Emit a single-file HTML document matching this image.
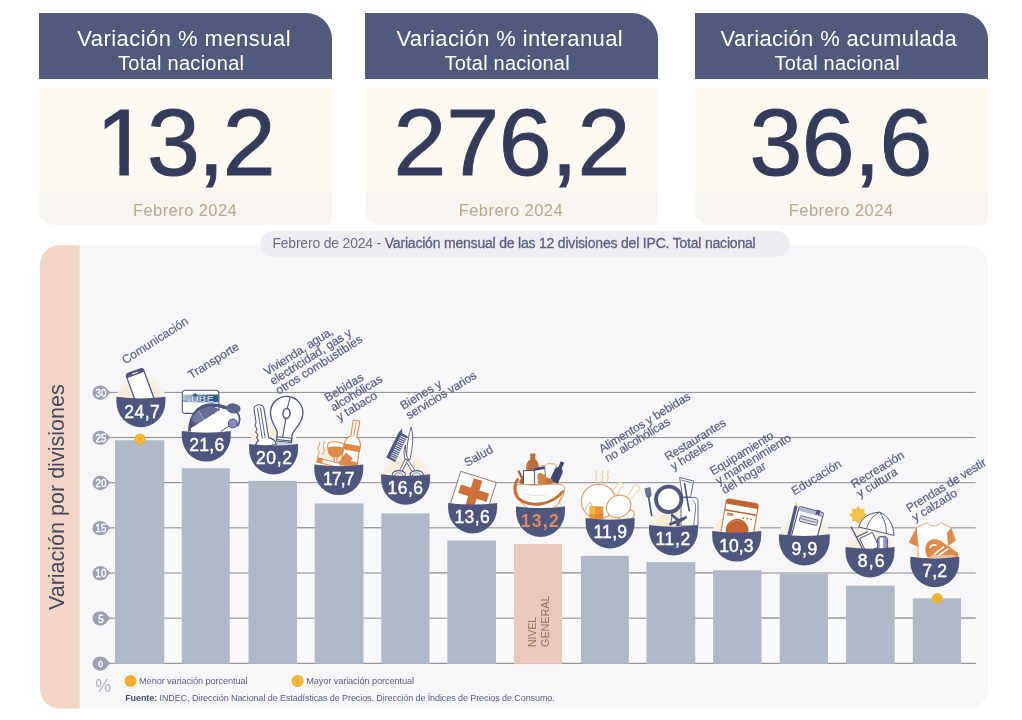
<!DOCTYPE html>
<html lang="es"><head><meta charset="utf-8"><title>IPC Febrero 2024</title>
<style>
html,body{margin:0;padding:0;background:#fff;}
body{width:1022px;height:720px;overflow:hidden;font-family:"Liberation Sans",sans-serif;}
svg{display:block}
text{font-family:"Liberation Sans",sans-serif;}
</style></head><body>
<svg width="1022" height="720" viewBox="0 0 1022 720">
<rect width="1022" height="720" fill="#fff"/>

<g id="cards">
<path d="M39 13H306a26 26 0 0 1 26 26V79H39Z" fill="#525a7b"/>
<path d="M39.5 88H332V218.4a6 6 0 0 1 -6 6H52a12.5 12.5 0 0 1 -12.5 -12.5Z" fill="#fef9f2"/>
<path d="M39.5 192H332V218.4a6 6 0 0 1 -6 6H52a12.5 12.5 0 0 1 -12.5 -12.5Z" fill="#f8f4ef"/>
<path d="M365 13H632a26 26 0 0 1 26 26V79H365Z" fill="#525a7b"/>
<path d="M365.5 88H658V218.4a6 6 0 0 1 -6 6H378a12.5 12.5 0 0 1 -12.5 -12.5Z" fill="#fef9f2"/>
<path d="M365.5 192H658V218.4a6 6 0 0 1 -6 6H378a12.5 12.5 0 0 1 -12.5 -12.5Z" fill="#f8f4ef"/>
<path d="M695 13H962a26 26 0 0 1 26 26V79H695Z" fill="#525a7b"/>
<path d="M695.5 88H988V218.4a6 6 0 0 1 -6 6H708a12.5 12.5 0 0 1 -12.5 -12.5Z" fill="#fef9f2"/>
<path d="M695.5 192H988V218.4a6 6 0 0 1 -6 6H708a12.5 12.5 0 0 1 -12.5 -12.5Z" fill="#f8f4ef"/>
<text x="77.19" y="46" font-size="22" fill="#fff" letter-spacing="0.462">Variación % mensual</text>
<text x="118.10" y="69.6" font-size="20" fill="#fff" letter-spacing="0.277">Total nacional</text>
<text x="95.97" y="175" font-size="95" fill="#353b5a" letter-spacing="-1.767" stroke="#353b5a" stroke-width="1">13,2</text>
<text x="132.98" y="215.5" font-size="16.5" fill="#b7a98c" letter-spacing="0.430">Febrero 2024</text>
<text x="396.39" y="46" font-size="22" fill="#fff" letter-spacing="0.370">Variación % interanual</text>
<text x="444.50" y="69.6" font-size="20" fill="#fff" letter-spacing="0.215">Total nacional</text>
<text x="393.55" y="175" font-size="95" fill="#353b5a" letter-spacing="-0.250" stroke="#353b5a" stroke-width="1">276,2</text>
<text x="458.68" y="215.5" font-size="16.5" fill="#b7a98c" letter-spacing="0.448">Febrero 2024</text>
<text x="720.59" y="46" font-size="22" fill="#fff" letter-spacing="0.337">Variación % acumulada</text>
<text x="774.50" y="69.6" font-size="20" fill="#fff" letter-spacing="0.215">Total nacional</text>
<text x="749.60" y="175" font-size="95" fill="#353b5a" letter-spacing="-0.692" stroke="#353b5a" stroke-width="1">36,6</text>
<text x="788.68" y="215.5" font-size="16.5" fill="#b7a98c" letter-spacing="0.485">Febrero 2024</text>
<rect x="100" y="166" width="19.35" height="11" fill="#fef9f2"/><rect x="128.85" y="166" width="18.5" height="11" fill="#fef9f2"/>
</g>
<g id="panel">
<path d="M59.5 245.3H968a20 20 0 0 1 20 20V688.5a20 20 0 0 1 -20 20H59.5a19.5 19.5 0 0 1 -19.5 -19.5V264.8a19.5 19.5 0 0 1 19.5 -19.5Z" fill="#f7f7fa"/>
<path d="M59.5 245.3H79.6V708.5H59.5a19.5 19.5 0 0 1 -19.5 -19.5V264.8a19.5 19.5 0 0 1 19.5 -19.5Z" fill="#f3d5c8"/>
<rect x="260.3" y="231.2" width="529.4" height="25.8" rx="12.9" fill="#ededf2"/>
<text x="272.38" y="248.2" font-size="14" letter-spacing="-0.200" fill="#5f5d88" stroke="#5f5d88" stroke-width=".3"><tspan fill="#6d6e86" stroke="none">Febrero de 2024 - </tspan>Variación mensual de las 12 divisiones del IPC. Total nacional</text>
<text transform="translate(64.2 610) rotate(-90)" x="-0.11" y="0" font-size="21.6" letter-spacing="-0.027" fill="#45485f">Variación por divisiones</text>
</g>
<g id="grid">
<line x1="106" y1="392.4" x2="975.6" y2="392.4" stroke="#8a8a8c" stroke-width="1"/>
<line x1="106" y1="437.54999999999995" x2="975.6" y2="437.54999999999995" stroke="#8a8a8c" stroke-width="1"/>
<line x1="106" y1="482.69999999999993" x2="975.6" y2="482.69999999999993" stroke="#8a8a8c" stroke-width="1"/>
<line x1="106" y1="527.8499999999999" x2="975.6" y2="527.8499999999999" stroke="#8a8a8c" stroke-width="1"/>
<line x1="106" y1="573.0" x2="975.6" y2="573.0" stroke="#8a8a8c" stroke-width="1"/>
<line x1="106" y1="618.15" x2="975.6" y2="618.15" stroke="#8a8a8c" stroke-width="1"/>
<line x1="106" y1="663.3" x2="975.6" y2="663.3" stroke="#8a8a8c" stroke-width="1"/>
</g>
<g id="bars">
<rect x="164.25" y="482.69999999999993" width="17.5" height="180.60000000000002" fill="#fafafc"/>
<line x1="164.25" y1="663.3" x2="181.75" y2="663.3" stroke="#8a8a8c" stroke-width="1"/>
<line x1="164.25" y1="618.15" x2="181.75" y2="618.15" stroke="#8a8a8c" stroke-width="1"/>
<line x1="164.25" y1="573.0" x2="181.75" y2="573.0" stroke="#8a8a8c" stroke-width="1"/>
<line x1="164.25" y1="527.8499999999999" x2="181.75" y2="527.8499999999999" stroke="#8a8a8c" stroke-width="1"/>
<line x1="164.25" y1="482.69999999999993" x2="181.75" y2="482.69999999999993" stroke="#8a8a8c" stroke-width="1"/>
<rect x="229.75" y="482.69999999999993" width="18.75" height="180.60000000000002" fill="#fafafc"/>
<line x1="229.75" y1="663.3" x2="248.5" y2="663.3" stroke="#8a8a8c" stroke-width="1"/>
<line x1="229.75" y1="618.15" x2="248.5" y2="618.15" stroke="#8a8a8c" stroke-width="1"/>
<line x1="229.75" y1="573.0" x2="248.5" y2="573.0" stroke="#8a8a8c" stroke-width="1"/>
<line x1="229.75" y1="527.8499999999999" x2="248.5" y2="527.8499999999999" stroke="#8a8a8c" stroke-width="1"/>
<line x1="229.75" y1="482.69999999999993" x2="248.5" y2="482.69999999999993" stroke="#8a8a8c" stroke-width="1"/>
<rect x="297" y="527.8499999999999" width="17.75" height="135.45000000000005" fill="#fafafc"/>
<line x1="297" y1="663.3" x2="314.75" y2="663.3" stroke="#8a8a8c" stroke-width="1"/>
<line x1="297" y1="618.15" x2="314.75" y2="618.15" stroke="#8a8a8c" stroke-width="1"/>
<line x1="297" y1="573.0" x2="314.75" y2="573.0" stroke="#8a8a8c" stroke-width="1"/>
<line x1="297" y1="527.8499999999999" x2="314.75" y2="527.8499999999999" stroke="#8a8a8c" stroke-width="1"/>
<rect x="363.5" y="527.8499999999999" width="17.75" height="135.45000000000005" fill="#fafafc"/>
<line x1="363.5" y1="663.3" x2="381.25" y2="663.3" stroke="#8a8a8c" stroke-width="1"/>
<line x1="363.5" y1="618.15" x2="381.25" y2="618.15" stroke="#8a8a8c" stroke-width="1"/>
<line x1="363.5" y1="573.0" x2="381.25" y2="573.0" stroke="#8a8a8c" stroke-width="1"/>
<line x1="363.5" y1="527.8499999999999" x2="381.25" y2="527.8499999999999" stroke="#8a8a8c" stroke-width="1"/>
<rect x="429.5" y="573.0" width="17.80000000000001" height="90.29999999999995" fill="#fafafc"/>
<line x1="429.5" y1="663.3" x2="447.3" y2="663.3" stroke="#8a8a8c" stroke-width="1"/>
<line x1="429.5" y1="618.15" x2="447.3" y2="618.15" stroke="#8a8a8c" stroke-width="1"/>
<line x1="429.5" y1="573.0" x2="447.3" y2="573.0" stroke="#8a8a8c" stroke-width="1"/>
<rect x="496" y="573.0" width="18" height="90.29999999999995" fill="#fafafc"/>
<line x1="496" y1="663.3" x2="514" y2="663.3" stroke="#8a8a8c" stroke-width="1"/>
<line x1="496" y1="618.15" x2="514" y2="618.15" stroke="#8a8a8c" stroke-width="1"/>
<line x1="496" y1="573.0" x2="514" y2="573.0" stroke="#8a8a8c" stroke-width="1"/>
<rect x="562" y="573.0" width="19" height="90.29999999999995" fill="#fafafc"/>
<line x1="562" y1="663.3" x2="581" y2="663.3" stroke="#8a8a8c" stroke-width="1"/>
<line x1="562" y1="618.15" x2="581" y2="618.15" stroke="#8a8a8c" stroke-width="1"/>
<line x1="562" y1="573.0" x2="581" y2="573.0" stroke="#8a8a8c" stroke-width="1"/>
<rect x="628.9" y="573.0" width="17.600000000000023" height="90.29999999999995" fill="#fafafc"/>
<line x1="628.9" y1="663.3" x2="646.5" y2="663.3" stroke="#8a8a8c" stroke-width="1"/>
<line x1="628.9" y1="618.15" x2="646.5" y2="618.15" stroke="#8a8a8c" stroke-width="1"/>
<line x1="628.9" y1="573.0" x2="646.5" y2="573.0" stroke="#8a8a8c" stroke-width="1"/>
<rect x="695.25" y="573.0" width="17.75" height="90.29999999999995" fill="#fafafc"/>
<line x1="695.25" y1="663.3" x2="713" y2="663.3" stroke="#8a8a8c" stroke-width="1"/>
<line x1="695.25" y1="618.15" x2="713" y2="618.15" stroke="#8a8a8c" stroke-width="1"/>
<line x1="695.25" y1="573.0" x2="713" y2="573.0" stroke="#8a8a8c" stroke-width="1"/>
<rect x="761.5" y="618.15" width="18.25" height="45.14999999999998" fill="#fafafc"/>
<line x1="761.5" y1="663.3" x2="779.75" y2="663.3" stroke="#8a8a8c" stroke-width="1"/>
<line x1="761.5" y1="618.15" x2="779.75" y2="618.15" stroke="#8a8a8c" stroke-width="1"/>
<rect x="828" y="618.15" width="18" height="45.14999999999998" fill="#fafafc"/>
<line x1="828" y1="663.3" x2="846" y2="663.3" stroke="#8a8a8c" stroke-width="1"/>
<line x1="828" y1="618.15" x2="846" y2="618.15" stroke="#8a8a8c" stroke-width="1"/>
<rect x="894.75" y="618.15" width="18.049999999999955" height="45.14999999999998" fill="#fafafc"/>
<line x1="894.75" y1="663.3" x2="912.8" y2="663.3" stroke="#8a8a8c" stroke-width="1"/>
<line x1="894.75" y1="618.15" x2="912.8" y2="618.15" stroke="#8a8a8c" stroke-width="1"/>
<rect x="961" y="618.15" width="14.6" height="45.14999999999998" fill="#fafafc"/>
<line x1="961" y1="663.3" x2="975.6" y2="663.3" stroke="#8a8a8c" stroke-width="1"/>
<line x1="961" y1="618.15" x2="975.6" y2="618.15" stroke="#8a8a8c" stroke-width="1"/>
<rect x="115" y="440.26" width="49.25" height="223.54" fill="#b1b8c8"/>
<rect x="181.75" y="468.25" width="48.0" height="195.55" fill="#b1b8c8"/>
<rect x="248.5" y="480.89" width="48.5" height="182.91" fill="#b1b8c8"/>
<rect x="314.75" y="503.47" width="48.75" height="160.33" fill="#b1b8c8"/>
<rect x="381.25" y="513.40" width="48.25" height="150.40" fill="#b1b8c8"/>
<rect x="447.3" y="540.49" width="48.69999999999999" height="123.31" fill="#b1b8c8"/>
<rect x="514" y="544.10" width="48" height="119.70" fill="#e7cabc"/>
<rect x="581" y="555.84" width="47.89999999999998" height="107.96" fill="#b1b8c8"/>
<rect x="646.5" y="562.16" width="48.75" height="101.64" fill="#b1b8c8"/>
<rect x="713" y="570.29" width="48.5" height="93.51" fill="#b1b8c8"/>
<rect x="779.75" y="573.90" width="48.25" height="89.90" fill="#b1b8c8"/>
<rect x="846" y="585.64" width="48.75" height="78.16" fill="#b1b8c8"/>
<rect x="912.8" y="598.28" width="48.200000000000045" height="65.52" fill="#b1b8c8"/>
</g>
<g id="axis">
<path d="M104.5 387.2L110.8 392.4L104.5 397.59999999999997Z" fill="#9fa0b4"/>
<ellipse cx="100.3" cy="392.7" rx="7.8" ry="7.2" fill="#9fa0b4"/>
<text x="95.6" y="396.79999999999995" font-size="11.5" fill="#fff" stroke="#fff" stroke-width=".4" textLength="10.8" lengthAdjust="spacingAndGlyphs">30</text>
<path d="M104.5 432.34999999999997L110.8 437.54999999999995L104.5 442.74999999999994Z" fill="#9fa0b4"/>
<ellipse cx="100.3" cy="437.84999999999997" rx="7.8" ry="7.2" fill="#9fa0b4"/>
<text x="95.6" y="441.94999999999993" font-size="11.5" fill="#fff" stroke="#fff" stroke-width=".4" textLength="10.8" lengthAdjust="spacingAndGlyphs">25</text>
<path d="M104.5 477.49999999999994L110.8 482.69999999999993L104.5 487.8999999999999Z" fill="#9fa0b4"/>
<ellipse cx="100.3" cy="482.99999999999994" rx="7.8" ry="7.2" fill="#9fa0b4"/>
<text x="95.6" y="487.0999999999999" font-size="11.5" fill="#fff" stroke="#fff" stroke-width=".4" textLength="10.8" lengthAdjust="spacingAndGlyphs">20</text>
<path d="M104.5 522.6499999999999L110.8 527.8499999999999L104.5 533.05Z" fill="#9fa0b4"/>
<ellipse cx="100.3" cy="528.1499999999999" rx="7.8" ry="7.2" fill="#9fa0b4"/>
<text x="95.6" y="532.2499999999999" font-size="11.5" fill="#fff" stroke="#fff" stroke-width=".4" textLength="10.8" lengthAdjust="spacingAndGlyphs">15</text>
<path d="M104.5 567.8L110.8 573.0L104.5 578.2Z" fill="#9fa0b4"/>
<ellipse cx="100.3" cy="573.3" rx="7.8" ry="7.2" fill="#9fa0b4"/>
<text x="95.6" y="577.4" font-size="11.5" fill="#fff" stroke="#fff" stroke-width=".4" textLength="10.8" lengthAdjust="spacingAndGlyphs">10</text>
<path d="M104.5 612.9499999999999L110.8 618.15L104.5 623.35Z" fill="#9fa0b4"/>
<ellipse cx="100.3" cy="618.4499999999999" rx="7.8" ry="7.2" fill="#9fa0b4"/>
<text x="98.3" y="622.55" font-size="11.5" fill="#fff" stroke="#fff" stroke-width=".4" textLength="5.4" lengthAdjust="spacingAndGlyphs">5</text>
<path d="M104.5 658.0999999999999L110.8 663.3L104.5 668.5Z" fill="#9fa0b4"/>
<ellipse cx="100.3" cy="663.5999999999999" rx="7.8" ry="7.2" fill="#9fa0b4"/>
<text x="98.2" y="666.6999999999999" font-size="9" fill="#fff" stroke="#fff" stroke-width=".4" textLength="4.4" lengthAdjust="spacingAndGlyphs">0</text>
</g>
<text transform="translate(536.4 646.9) rotate(-90)" font-size="11.8" fill="#94705d" textLength="30" lengthAdjust="spacingAndGlyphs">NIVEL</text>
<text transform="translate(548.6 646.9) rotate(-90)" font-size="11.8" fill="#94705d" textLength="51.3" lengthAdjust="spacingAndGlyphs">GENERAL</text>
<defs><radialGradient id="bg"><stop offset="0" stop-color="#f5ead6"/><stop offset="0.7" stop-color="#f6eddc"/><stop offset="1" stop-color="#f7f4ee"/></radialGradient></defs>
<g id="b1">
<circle cx="140.9" cy="399.90" r="24.5" fill="url(#bg)"/>
<g transform="translate(125.6 374.2) rotate(-20)"><rect x="0" y="0" width="18.4" height="36" rx="2.6" fill="#fff" stroke="#4f567e" stroke-width="1.3"/><path d="M0 4.2V2.6A2.6 2.6 0 0 1 2.6 0H15.8A2.6 2.6 0 0 1 18.4 2.6V4.2Z" fill="#4f567e"/><rect x="6" y="1.6" width="6.4" height="1" rx=".5" fill="#fff"/></g>
<path d="M116.40 396.7Q140.9 400.10 165.40 396.7V401.70A24.5 25.5 0 0 1 116.40 401.70Z" fill="#4f567e"/>
<text x="124.33" y="417.6" font-size="17.5" fill="#fff" letter-spacing="0.438" stroke="#fff" stroke-width="0.45">24,7</text>
</g>
<g id="b2">
<circle cx="206.25" cy="434.30" r="24.5" fill="url(#bg)"/>
<defs><linearGradient id="sb" x1="0" x2="1" y1="0" y2="0"><stop offset="0" stop-color="#cfd8e4"/><stop offset=".4" stop-color="#7f98b6"/><stop offset=".8" stop-color="#2f5d88"/><stop offset="1" stop-color="#2b5882"/></linearGradient></defs>
<rect x="182.3" y="390.2" width="36.6" height="23.2" rx="3.2" fill="#fff" stroke="#4f567e" stroke-width="1.1"/>
<rect x="183" y="394.6" width="35.4" height="7.6" fill="url(#sb)"/>
<path d="M191.8 396.4L195.2 392.8L198.6 396.4Z" fill="#2f5b84"/>
<text x="183.3" y="401.7" font-size="9" font-weight="bold" fill="#fff" stroke="#2f4f7a" stroke-width=".3" textLength="30.6" lengthAdjust="spacingAndGlyphs">SUBE</text>
<path d="M189.7 431.5C189.9 416 198 405.2 211 405C217 405 222.6 406.4 228 408.6" fill="none" stroke="#4f567e" stroke-width="3.3"/>
<path d="M190.6 429V420C192.6 413.6 198 408.4 206 406.6H213L219.6 409.4Z" fill="#4f567e"/>
<path d="M191.6 420.6C193 416 195.4 412.6 198.4 410.6L203.8 420.2L197.6 424Z" fill="#73779c"/>
<path d="M199.6 409.8C203 407.8 207 406.8 211 406.8L218.6 409.4L204.8 419.6Z" fill="#6a6e95"/>
<path d="M198.6 410.4L204.2 420" stroke="#e3e5ee" stroke-width=".7" fill="none"/>
<path d="M190.9 432V428.2L219.5 410.4C226 408.6 233 409.6 237.6 414C240.2 418.6 239.8 423 237 426.8L227 432Z" fill="#fff"/>
<path d="M236.6 411.6C240.4 416.4 240.2 422 237.4 426.2" fill="none" stroke="#4f567e" stroke-width="1.7"/>
<ellipse cx="233.4" cy="408.4" rx="7.2" ry="5" transform="rotate(8 233.4 408.4)" fill="#5e6289"/>
<path d="M220.6 431.6L230 425.4" stroke="#4f567e" stroke-width="1"/>
<circle cx="232.8" cy="423.4" r="4.4" fill="#8a8cbc" stroke="#4f567e" stroke-width="1.1"/>
<path d="M181.75 431.1Q206.25 434.50 230.75 431.1V436.10A24.5 25.5 0 0 1 181.75 436.10Z" fill="#4f567e"/>
<text x="189.22" y="450.8" font-size="17.5" fill="#fff" letter-spacing="0.313" stroke="#fff" stroke-width="0.45">21,6</text>
</g>
<g id="b3">
<circle cx="273.6" cy="447.10" r="24.5" fill="url(#bg)"/>
<g transform="rotate(5.5 286.6 412.6)"><path d="M279.3 442V434.5C279.3 428.5 270.5 424.5 270.5 412.6A16.2 16.2 0 0 1 302.9 412.6C302.9 424.5 294.2 428.5 294.2 434.5V442Z" fill="#fff" stroke="#4f567e" stroke-width="1.3"/>
<path d="M288.6 397L286.8 408.6" stroke="#4f567e" stroke-width="1" fill="none"/>
<ellipse cx="286.6" cy="413.6" rx="3.5" ry="5" fill="none" stroke="#4f567e" stroke-width="1.5"/>
<path d="M286.4 418.6L285 437" stroke="#4f567e" stroke-width="1.2" fill="none"/>
<path d="M278.6 437.6H294.8M278.6 440.4H294.8" stroke="#4f567e" stroke-width="1.2"/>
<path d="M278.8 442.4H294.6V446H278.8Z" fill="#c9cbdc"/></g>
<g transform="translate(253.4 405.6) rotate(-9)"><path d="M0 4.6C0 1.6 2 0 5 0S10 1.6 10 4.6V34C14 35.5 16.5 38 16.5 42H-4.5C-4.5 39 -2.6 36.6 -0.4 35.4L-1.8 32 0 29.5-1.8 26.5 0 23.5-1.6 20 0 17Z" fill="#fff" stroke="#4f567e" stroke-width="1.1" stroke-linejoin="round"/><path d="M3.6 3V34M6.6 3V34" stroke="#4f567e" stroke-width=".9"/></g>
<path d="M249.10 443.9Q273.6 447.30 298.10 443.9V448.90A24.5 25.5 0 0 1 249.10 448.90Z" fill="#4f567e"/>
<text x="255.93" y="464" font-size="17.5" fill="#fff" letter-spacing="0.671" stroke="#fff" stroke-width="0.45">20,2</text>
</g>
<g id="b4">
<circle cx="338.75" cy="467.80" r="24.5" fill="url(#bg)"/>
<path d="M318.6 459C315.5 456 321 453.6 318.4 450.4C316 447.4 321.6 445 319.4 441.6" fill="none" stroke="#dd8a4b" stroke-width=".9"/>
<path d="M323.6 455C321.4 452.6 325.6 450.8 323.6 448.2C321.8 445.8 325.4 443.6 323.8 441" fill="none" stroke="#dd8a4b" stroke-width=".9"/>
<g transform="translate(356.6 420.6) rotate(10)"><path d="M-3.4 0.8C-3.4 -0.4 3.4 -0.4 3.4 0.8L3 16C7 18.4 8 21 8 25V42.5C8 44.6 6.8 45.5 5 45.5H-5C-6.8 45.5 -8 44.6 -8 42.5V25C-8 21 -7 18.4 -3 16Z" fill="#fff" stroke="#dd8a4b" stroke-width="1.1"/><path d="M-0.2 1V16" stroke="#dd8a4b" stroke-width=".9"/><path d="M-8.6 24.6H8.6V30.6H-8.6Z" fill="#dd8a4b"/><path d="M-8.6 41H8.6V45.5H-8.6Z" fill="#dd8a4b"/></g>
<path d="M328 443.2C331.4 441.2 339.6 441.4 343.2 443.8C344.6 450.6 342 456.2 336.6 457.6L337 462.6L340.6 464.4H330.4L334.4 462.6L334.2 457.6C329 456 326.8 450 328 443.2Z" fill="#fff" stroke="#dd8a4b" stroke-width="1"/>
<path d="M327.8 447.4C332 446 339.6 446.2 343.6 447.6C343.4 453 341 456.6 336.6 457.6H334.2C330 456.4 328 452.6 327.8 447.4Z" fill="#dd8a4b"/>
<path d="M337 464.6L346 452.6L353 458.5L346 466Z" fill="#dd8a4b"/>
<path d="M317.8 457.8L340.4 463.6L339.4 467.6L316.8 462Z" fill="#fff" stroke="#dd8a4b" stroke-width="1"/>
<path d="M317.8 457.8L323 459.2L322 463.2L316.8 462Z" fill="#dd8a4b"/>
<path d="M314.25 464.6Q338.75 468.00 363.25 464.6V469.60A24.5 25.5 0 0 1 314.25 469.60Z" fill="#4f567e"/>
<text x="322.99" y="484.7" font-size="17.5" fill="#fff" letter-spacing="-0.883" stroke="#fff" stroke-width="0.45">17,7</text>
</g>
<g id="b5">
<circle cx="405.6" cy="477.50" r="24.5" fill="url(#bg)"/>
<g transform="translate(398.8 431.9) rotate(26)"><path d="M1.4 -4.8L3.8 0H9.8V28.6H0V0H0.4Z" fill="#4f567e"/><path d="M3.2 2.80H9.9M3.2 4.90H9.9M3.2 7.00H9.9M3.2 9.10H9.9M3.2 11.20H9.9M3.2 13.30H9.9M3.2 15.40H9.9M3.2 17.50H9.9M3.2 19.60H9.9M3.2 21.70H9.9M3.2 23.80H9.9M3.2 25.90H9.9" stroke="#eef0f6" stroke-width=".95"/></g>
<path d="M411.2 427.2C413.4 434 413.4 446 409.8 459.6L406.6 459C406.6 447 408.6 434 411.2 427.2Z" fill="#fff" stroke="#4f567e" stroke-width=".9" stroke-linejoin="round"/>
<path d="M405.4 445.2C405.2 451 406.4 456 408.6 460.2L405.6 460.8C403.6 456 403.6 450 405.4 445.2Z" fill="#fff" stroke="#4f567e" stroke-width=".9" stroke-linejoin="round"/>
<path d="M408.2 460L415.8 471.8L413 472.8L405.8 461.2Z" fill="#fff" stroke="#4f567e" stroke-width=".9" stroke-linejoin="round"/>
<path d="M407.8 459.8L402 471.8L399.4 470.8L405.2 459.2Z" fill="#fff" stroke="#4f567e" stroke-width=".9" stroke-linejoin="round"/>
<ellipse cx="398.8" cy="474.6" rx="6.6" ry="4" fill="#fff" stroke="#4f567e" stroke-width="1.1"/><ellipse cx="398.8" cy="475.2" rx="4.2" ry="2.3" fill="#f5ead6" stroke="#4f567e" stroke-width=".7"/>
<ellipse cx="416.6" cy="474.6" rx="6.6" ry="4" fill="#fff" stroke="#4f567e" stroke-width="1.1"/><ellipse cx="416.6" cy="475.2" rx="4.2" ry="2.3" fill="#f5ead6" stroke="#4f567e" stroke-width=".7"/>
<path d="M381.10 474.3Q405.6 477.70 430.10 474.3V479.30A24.5 25.5 0 0 1 381.10 479.30Z" fill="#4f567e"/>
<text x="387.59" y="494.4" font-size="17.5" fill="#fff" letter-spacing="0.425" stroke="#fff" stroke-width="0.45">16,6</text>
</g>
<g id="b6">
<circle cx="472.6" cy="506.10" r="24.5" fill="url(#bg)"/>
<g transform="translate(460.8 471.3) rotate(17.6)"><rect x="0" y="0" width="37.2" height="38" fill="#fff" stroke="#8c6258" stroke-width=".8"/><path d="M14.6 2.6H23.4V12.6H33.8V21.4H23.4V33H14.6V21.4H4.2V12.6H14.6Z" fill="#cc6f3b"/></g>
<path d="M448.10 502.9Q472.6 506.30 497.10 502.9V507.90A24.5 25.5 0 0 1 448.10 507.90Z" fill="#4f567e"/>
<text x="454.49" y="523.3" font-size="17.5" fill="#fff" letter-spacing="0.358" stroke="#fff" stroke-width="0.45">13,6</text>
</g>
<g id="b7">
<circle cx="540.5" cy="509.60" r="24.5" fill="url(#bg)"/>
<path d="M526.6 470.6C525.4 465 527.6 461.2 530.2 459.6V457C530.2 455.6 535.4 455.6 535.4 457V459.6C538 461.2 539.6 465 538.6 470.6Z" fill="#bd6c3b"/>
<rect x="530.1" y="453.4" width="5.4" height="3.2" rx="1" fill="#bd6c3b"/>
<path d="M538 468C541 464 545 467 547 464.4C549 462 552 465 554.4 463.6C556 466 557 468 557.6 471L551 484H540Z" fill="#fff" stroke="#d9904f" stroke-width=".9"/>
<g transform="translate(562.6 462) rotate(24)"><path d="M-1.9 0H1.9V6.4C3.6 7.6 4.4 9 4.4 11V22H-4.4V11C-4.4 9 -3.6 7.6 -1.9 6.4Z" fill="#3f4671"/></g>
<path d="M518.8 471.4L524 482" stroke="#a4582f" stroke-width="2.2" stroke-linecap="round"/>
<ellipse cx="522.6" cy="481.4" rx="3.2" ry="2.6" fill="#b5643a"/>
<path d="M523.4 470.6H534.4V485H523.4Z" fill="#fff" stroke="#3f4671" stroke-width="1"/>
<path d="M534.6 468.4L544.6 466.6L546.4 485H534.6Z" fill="#fff" stroke="#5a5f8c" stroke-width=".9"/>
<path d="M534.6 468.6L544.6 466.8L544.9 469L534.6 470.8Z" fill="#3f4671"/>
<path d="M537.4 474.6C539 472.4 542 472.6 543 474.6C544.6 474 546.6 475.4 546 477.6C548 477 550 478.6 549.4 480.6C551 481 552 483 551 485H538Z" fill="#d3824a"/>
<path d="M545 478.6H552.6V486H545Z" fill="#c5713b"/>
<path d="M516 486.6C518 484 522 483.6 526 484.6C534 486.6 552 482.6 561 484.6C564 485.6 565.4 488 564.6 490.6C563 499 557 510 541 512C526 511 517.6 501 516 486.6Z" fill="#fff" stroke="#d9904f" stroke-width=".9"/>
<path d="M525 493.6C530 496 540 496.2 547 494" fill="none" stroke="#dfe1ea" stroke-width="1"/>
<path d="M517.6 479.6C512.8 487 514 497 522.6 501.4C534 507 552 504.6 562.8 491.6" fill="none" stroke="#c4713c" stroke-width="2.9" stroke-linecap="round"/>
<path d="M563.4 490L558.6 504" fill="none" stroke="#d9904f" stroke-width=".9"/>
<path d="M516.00 506.4Q540.5 509.80 565.00 506.4V511.40A24.5 25.5 0 0 1 516.00 511.40Z" fill="#4f567e"/>
<text x="520.75" y="527.2" font-size="17.5" fill="#d98f62" letter-spacing="1.271" font-weight="bold">13,2</text>
</g>
<g id="b8">
<circle cx="610.1" cy="521.20" r="24.5" fill="url(#bg)"/>
<path d="M596.2 482.6C594.4 480.4 597.8 478.6 596.2 476.2C594.8 474 597.6 472.4 596.4 470.4" fill="none" stroke="#f0cd88" stroke-width="1.2"/>
<path d="M602.4 482.6C600.6 480.4 604 478.6 602.4 476.2C601 474 603.8 472.4 602.6 470.4" fill="none" stroke="#f0cd88" stroke-width="1.2"/>
<path d="M607.8 482.6C606 480.4 609.4 478.6 607.8 476.2C606.4 474 609.2 472.4 608 470.4" fill="none" stroke="#f0cd88" stroke-width="1.2"/>
<path d="M612.6 491.6L617.6 484.6C617 482.6 618.6 481.4 620 482.4C621.6 481.6 623.6 483 622.8 484.8C624 486 623 487.6 621.4 487.2L616.6 494.6Z" fill="#fff" stroke="#f0c78a" stroke-width=".9"/>
<path d="M626.6 497L633.6 487.4C633.4 485.6 635 484.4 636.6 485.4C638.4 485 640 486.8 639 488.6C640.4 490 639 491.8 637.2 491.2L630.4 499.6Z" fill="#fff" stroke="#f0c78a" stroke-width=".9"/>
<circle cx="598.6" cy="501.4" r="17.2" fill="#fff" stroke="#e09a64" stroke-width="1.1"/>
<path d="M584.6 511C586 507 588.6 503.4 590.4 502.4C592 505 592.6 508 592.4 511" fill="none" stroke="#e09a64" stroke-width=".8"/>
<path d="M617 516C620 512 628 509 632.6 510.6C635.6 512.6 634.6 516.6 631 518.6L620 519.6Z" fill="#fff" stroke="#e09a64" stroke-width="1.1"/>
<ellipse cx="618.6" cy="506.4" rx="12.6" ry="10.8" transform="rotate(-28 618.6 506.4)" fill="#fff" stroke="#e09a64" stroke-width="1.1"/>
<rect x="589.6" y="506.4" width="13.6" height="13" fill="#e8923a"/><rect x="589.6" y="506.4" width="5.4" height="13" fill="#efb546"/><rect x="589.6" y="514" width="13.6" height="5.4" fill="#d8802f" opacity=".55"/>
<path d="M585.60 518Q610.1 521.40 634.60 518V523.00A24.5 25.5 0 0 1 585.60 523.00Z" fill="#4f567e"/>
<text x="593.39" y="537.8" font-size="17.5" fill="#fff" letter-spacing="0.308" stroke="#fff" stroke-width="0.45">11,9</text>
</g>
<g id="b9">
<circle cx="673.5" cy="528.20" r="24.5" fill="url(#bg)"/>
<path d="M679.6 477.4L693.6 481L690.6 497H682.6Z" fill="#fff" stroke="#4f567e" stroke-width=".9"/>
<path d="M681 480L692.4 483" stroke="#4f567e" stroke-width=".8"/>
<path d="M684 497.6H694.6C697 497.6 698 499 698 501.4V526H681V500.6C681 498.6 682 497.6 684 497.6Z" fill="#fff" stroke="#4f567e" stroke-width=".9"/>
<path d="M692 499.6C695 502 696 505 695.6 509L693.6 526" fill="none" stroke="#4f567e" stroke-width=".8"/>
<path d="M672.6 511L670.6 526" stroke="#4f567e" stroke-width=".9"/>
<path d="M684.6 483.6C685.6 490 687.2 500 689.2 510.6" fill="none" stroke="#4f567e" stroke-width="1.7" stroke-linecap="round"/>
<circle cx="668.7" cy="499.3" r="12.7" fill="#fff" stroke="#4f567e" stroke-width="3.9"/>
<path d="M644.4 488.6L650.4 487L651.6 494.6C651.6 496.6 650.4 497.6 649 497.6C647.4 497.8 646.2 497 645.8 495.4Z" fill="#6d7196"/>
<path d="M648.6 497L651.6 515.6" stroke="#4f567e" stroke-width="1.7" stroke-linecap="round"/>
<path d="M668.6 523.6L684.6 516.6C686.6 515.8 688 517 686.6 518.4L680 522.6L679.6 526H676L676.6 523.6L670 525.4Z" fill="#4f567e"/>
<path d="M672 513.6L681.6 521L678.6 522.6L670.6 515.6Z" fill="#4f567e"/>
<path d="M649.00 525Q673.5 528.40 698.00 525V530.00A24.5 25.5 0 0 1 649.00 530.00Z" fill="#4f567e"/>
<text x="655.49" y="544.6" font-size="17.5" fill="#fff" letter-spacing="0.688" stroke="#fff" stroke-width="0.45">11,2</text>
</g>
<g id="b10">
<circle cx="736.7" cy="534.30" r="24.5" fill="url(#bg)"/>
<g transform="translate(726.6 498.6) rotate(9.6)"><rect x="0" y="0" width="32.4" height="40" rx="2.6" fill="#fff" stroke="#cf7a45" stroke-width="1.1"/><path d="M0 5V2.6A2.6 2.6 0 0 1 2.6 0H29.8A2.6 2.6 0 0 1 32.4 2.6V5Z" fill="#c0642f"/><path d="M0 11.4H32.4" stroke="#c0642f" stroke-width="1.5"/><rect x="3" y="13.6" width="6.4" height="2.8" fill="#d98a55"/><circle cx="19.6" cy="16.4" r=".9" fill="#c0642f"/><circle cx="23.6" cy="16.4" r=".9" fill="#c0642f"/><circle cx="27.6" cy="16.4" r=".9" fill="#c0642f"/><circle cx="15.6" cy="29.4" r="11.3" fill="#c4632f"/><path d="M7 24C10 20.6 15 19 20 20.4" fill="none" stroke="#d98a55" stroke-width="1"/></g>
<path d="M712.20 531.1Q736.7 534.50 761.20 531.1V536.10A24.5 25.5 0 0 1 712.20 536.10Z" fill="#4f567e"/>
<text x="719.29" y="552" font-size="17.5" fill="#fff" letter-spacing="0.058" stroke="#fff" stroke-width="0.45">10,3</text>
</g>
<g id="b11">
<circle cx="804.4" cy="537.40" r="25.4" fill="url(#bg)"/>
<path d="M794.6 505.4L797.6 506L790.4 536H787Z" fill="#4f567e"/><path d="M794.6 505.4L796.6 501.6L797.6 506Z" fill="#e9c66a"/>
<g transform="translate(799.4 506.3) rotate(15)"><rect x="0" y="0" width="25.2" height="33" rx="2" fill="#fff" stroke="#4f567e" stroke-width="1.1"/><path d="M.6 4.4V2A1.6 1.6 0 0 1 2.2 .6H23A1.6 1.6 0 0 1 24.6 2V4.4Z" fill="#b3b6d2"/><rect x="3.6" y="8.6" width="18" height="5.6" rx=".8" fill="#d9dae6" stroke="#4f567e" stroke-width=".8"/><path d="M4.6 11.4H20.6" stroke="#4f567e" stroke-width=".6"/><path d="M17.6 -1.4H21.6V4.4L19.6 3L17.6 4.4Z" fill="#4f567e"/></g>
<path d="M779.00 534.2Q804.4 537.60 829.80 534.2V539.20A25.4 26.4 0 0 1 779.00 539.20Z" fill="#4f567e"/>
<text x="791.61" y="555" font-size="17.5" fill="#fff" letter-spacing="0.625" stroke="#fff" stroke-width="0.45">9,9</text>
</g>
<g id="b12">
<circle cx="870" cy="550.20" r="24.5" fill="url(#bg)"/>
<polygon points="867.6,515.0 863.9,517.4 864.8,521.6 860.6,520.7 858.2,524.4 855.8,520.7 851.6,521.6 852.5,517.4 848.8,515.0 852.5,512.6 851.6,508.4 855.8,509.3 858.2,505.6 860.6,509.3 864.8,508.4 863.9,512.6" fill="#f0c24c"/><circle cx="858.2" cy="515" r="6.4" fill="#f0c24c"/>
<path d="M858.8 527C861 518 869 512.6 879.6 512.2C888.6 516 893.6 524.6 894 535.4Z" fill="#fff" stroke="#4f567e" stroke-width="1"/>
<path d="M879.6 512.2C872.6 516 868 522 866.6 529" fill="none" stroke="#4f567e" stroke-width=".9"/>
<path d="M879.6 512.2C884 518 886.6 526 886.4 533.6" fill="none" stroke="#4f567e" stroke-width=".9"/>
<path d="M851 526.6L862.6 549" stroke="#4f567e" stroke-width="1.3"/>
<path d="M856.6 537L868 531.6" stroke="#4f567e" stroke-width="1.1"/>
<path d="M859.6 538.6L872.4 532.4L879 547L866 552Z" fill="#fff" stroke="#4f567e" stroke-width="1"/>
<path d="M877.6 538.6C877.6 535.6 887.6 535.6 887.6 539V551H877.6Z" fill="#9496bd" stroke="#4f567e" stroke-width="1"/>
<path d="M879.8 537.6V551H883.2V537.6Z" fill="#fff"/>
<path d="M845.50 547Q870 550.40 894.50 547V552.00A24.5 25.5 0 0 1 845.50 552.00Z" fill="#4f567e"/>
<text x="857.81" y="567.1" font-size="17.5" fill="#fff" letter-spacing="1.231" stroke="#fff" stroke-width="0.45">8,6</text>
</g>
<g id="b13">
<circle cx="934.8" cy="559.90" r="24.5" fill="url(#bg)"/>
<path d="M916.6 527.6L927 522.8C930 527 938 527 941 522.6L951 527.6L955.4 540.6L948 545.6V560H918V546L909 542.6Z" fill="#fff" stroke="#e9a36f" stroke-width=".9" stroke-linejoin="round"/>
<path d="M916.6 527.6L918.6 547L909 542.6Z" fill="#dd8a4b"/>
<path d="M951 527.6L955.6 540.6L948 545.6L947 533Z" fill="#dd8a4b"/>
<path d="M927.6 557.6C924 551 924.6 544 929.6 540.6C934 538 940 539.6 943.6 543L956 551.6C959.6 553.6 959 557 956 557.6Z" fill="#dd8a4b"/>
<path d="M929.6 548C931 545 934 544 936.6 545.6" fill="none" stroke="#fff" stroke-width="1.6"/>
<path d="M934 554.6L944 546.6M938.6 555.4L948.4 548.6" stroke="#fff" stroke-width="1.7"/>
<path d="M931 556H955" stroke="#fff" stroke-width=".9"/>
<path d="M910.30 556.7Q934.8 560.10 959.30 556.7V561.70A24.5 25.5 0 0 1 910.30 561.70Z" fill="#4f567e"/>
<text x="922.33" y="576.8" font-size="17.5" fill="#fff" letter-spacing="0.162" stroke="#fff" stroke-width="0.45">7,2</text>
</g>
<g id="labels">
<text transform="translate(125.3 364.4) rotate(-32.8)" font-size="12" fill="#595e80" stroke="#595e80" stroke-width=".2"><tspan x="0" y="0.0" letter-spacing="0">Comunicación</tspan></text>
<text transform="translate(191.2 379.2) rotate(-32)" font-size="12" fill="#595e80" stroke="#595e80" stroke-width=".2"><tspan x="0" y="0.0" letter-spacing="0">Transporte</tspan></text>
<text transform="translate(266.9 375.9) rotate(-32.3)" font-size="12" fill="#595e80" stroke="#595e80" stroke-width=".2"><tspan x="0" y="0.0" letter-spacing="-0.22">Vivienda, agua,</tspan> <tspan x="0" y="11.2" letter-spacing="-0.1">electricidad, gas y</tspan> <tspan x="0" y="22.4" letter-spacing="0">otros combustibles</tspan></text>
<text transform="translate(327.6 402.1) rotate(-31.5)" font-size="12" fill="#595e80" stroke="#595e80" stroke-width=".2"><tspan x="0" y="0.0" letter-spacing="0">Bebidas</tspan> <tspan x="0" y="11.3" letter-spacing="-0.1">alcohólicas</tspan> <tspan x="0" y="22.6" letter-spacing="0">y tabaco</tspan></text>
<text transform="translate(403.3 410.1) rotate(-31.5)" font-size="12" fill="#595e80" stroke="#595e80" stroke-width=".2"><tspan x="0" y="0.0" letter-spacing="0">Bienes y</tspan> <tspan x="0" y="11.0" letter-spacing="-0.12">servicios varios</tspan></text>
<text transform="translate(466.9 467.1) rotate(-29.5)" font-size="12" fill="#595e80" stroke="#595e80" stroke-width=".2"><tspan x="0" y="0.0" letter-spacing="0.1">Salud</tspan></text>
<text transform="translate(602.1 453.2) rotate(-31.5)" font-size="12" fill="#595e80" stroke="#595e80" stroke-width=".2"><tspan x="0" y="0.0" letter-spacing="-0.15">Alimentos y bebidas</tspan> <tspan x="0" y="11.0" letter-spacing="-0.15">no alcohólicas</tspan></text>
<text transform="translate(667.8 461.1) rotate(-31.5)" font-size="12" fill="#595e80" stroke="#595e80" stroke-width=".2"><tspan x="0" y="0.0" letter-spacing="-0.2">Restaurantes</tspan> <tspan x="0" y="11.0" letter-spacing="-0.1">y hoteles</tspan></text>
<text transform="translate(712.9 475.6) rotate(-31.5)" font-size="12" fill="#595e80" stroke="#595e80" stroke-width=".2"><tspan x="0" y="0.0" letter-spacing="-0.1">Equipamiento</tspan> <tspan x="0" y="11.0" letter-spacing="-0.15">y mantenimiento</tspan> <tspan x="0" y="22.0" letter-spacing="0">del hogar</tspan></text>
<text transform="translate(794.5 495.4) rotate(-31.5)" font-size="12" fill="#595e80" stroke="#595e80" stroke-width=".2"><tspan x="0" y="0.0" letter-spacing="0">Educación</tspan></text>
<text transform="translate(854.1 488.4) rotate(-31.5)" font-size="12" fill="#595e80" stroke="#595e80" stroke-width=".2"><tspan x="0" y="0.0" letter-spacing="-0.1">Recreación</tspan> <tspan x="0" y="11.0" letter-spacing="0">y cultura</tspan></text>
<text transform="translate(909.2 512.4) rotate(-31.5)" font-size="12" fill="#595e80" stroke="#595e80" stroke-width=".2"><tspan x="0" y="0.0" letter-spacing="-0.12">Prendas de vestir</tspan> <tspan x="0" y="11.0" letter-spacing="0">y calzado</tspan></text>
</g>
<circle cx="140" cy="439" r="5.6" fill="#efb02a"/><circle cx="140" cy="439" r="3.47" fill="none" stroke="#f6cc66" stroke-width="0.8"/>
<circle cx="937.3" cy="598.2" r="5.3" fill="#efb02a"/>
<circle cx="130.5" cy="680.9" r="6" fill="#efb02a"/>
<text x="139.06" y="684.2" font-size="9.2" fill="#595e80" letter-spacing="-0.089">Menor variación porcentual</text>
<circle cx="297.6" cy="681" r="6" fill="#efb02a"/><circle cx="297.6" cy="681" r="3.72" fill="none" stroke="#f6cc66" stroke-width="0.8"/>
<text x="306.26" y="684.2" font-size="9.2" fill="#595e80" letter-spacing="-0.104">Mayor variación porcentual</text>
<text x="125.2" y="700.5" font-size="9" letter-spacing="-0.088" fill="#595e80"><tspan font-weight="bold" fill="#4b506c">Fuente:</tspan> INDEC, Dirección Nacional de Estadísticas de Precios. Dirección de Índices de Precios de Consumo.</text>
<text x="103.2" y="692.2" font-size="17.8" fill="#b4b4bc" text-anchor="middle">%</text>
</svg>
</body></html>
